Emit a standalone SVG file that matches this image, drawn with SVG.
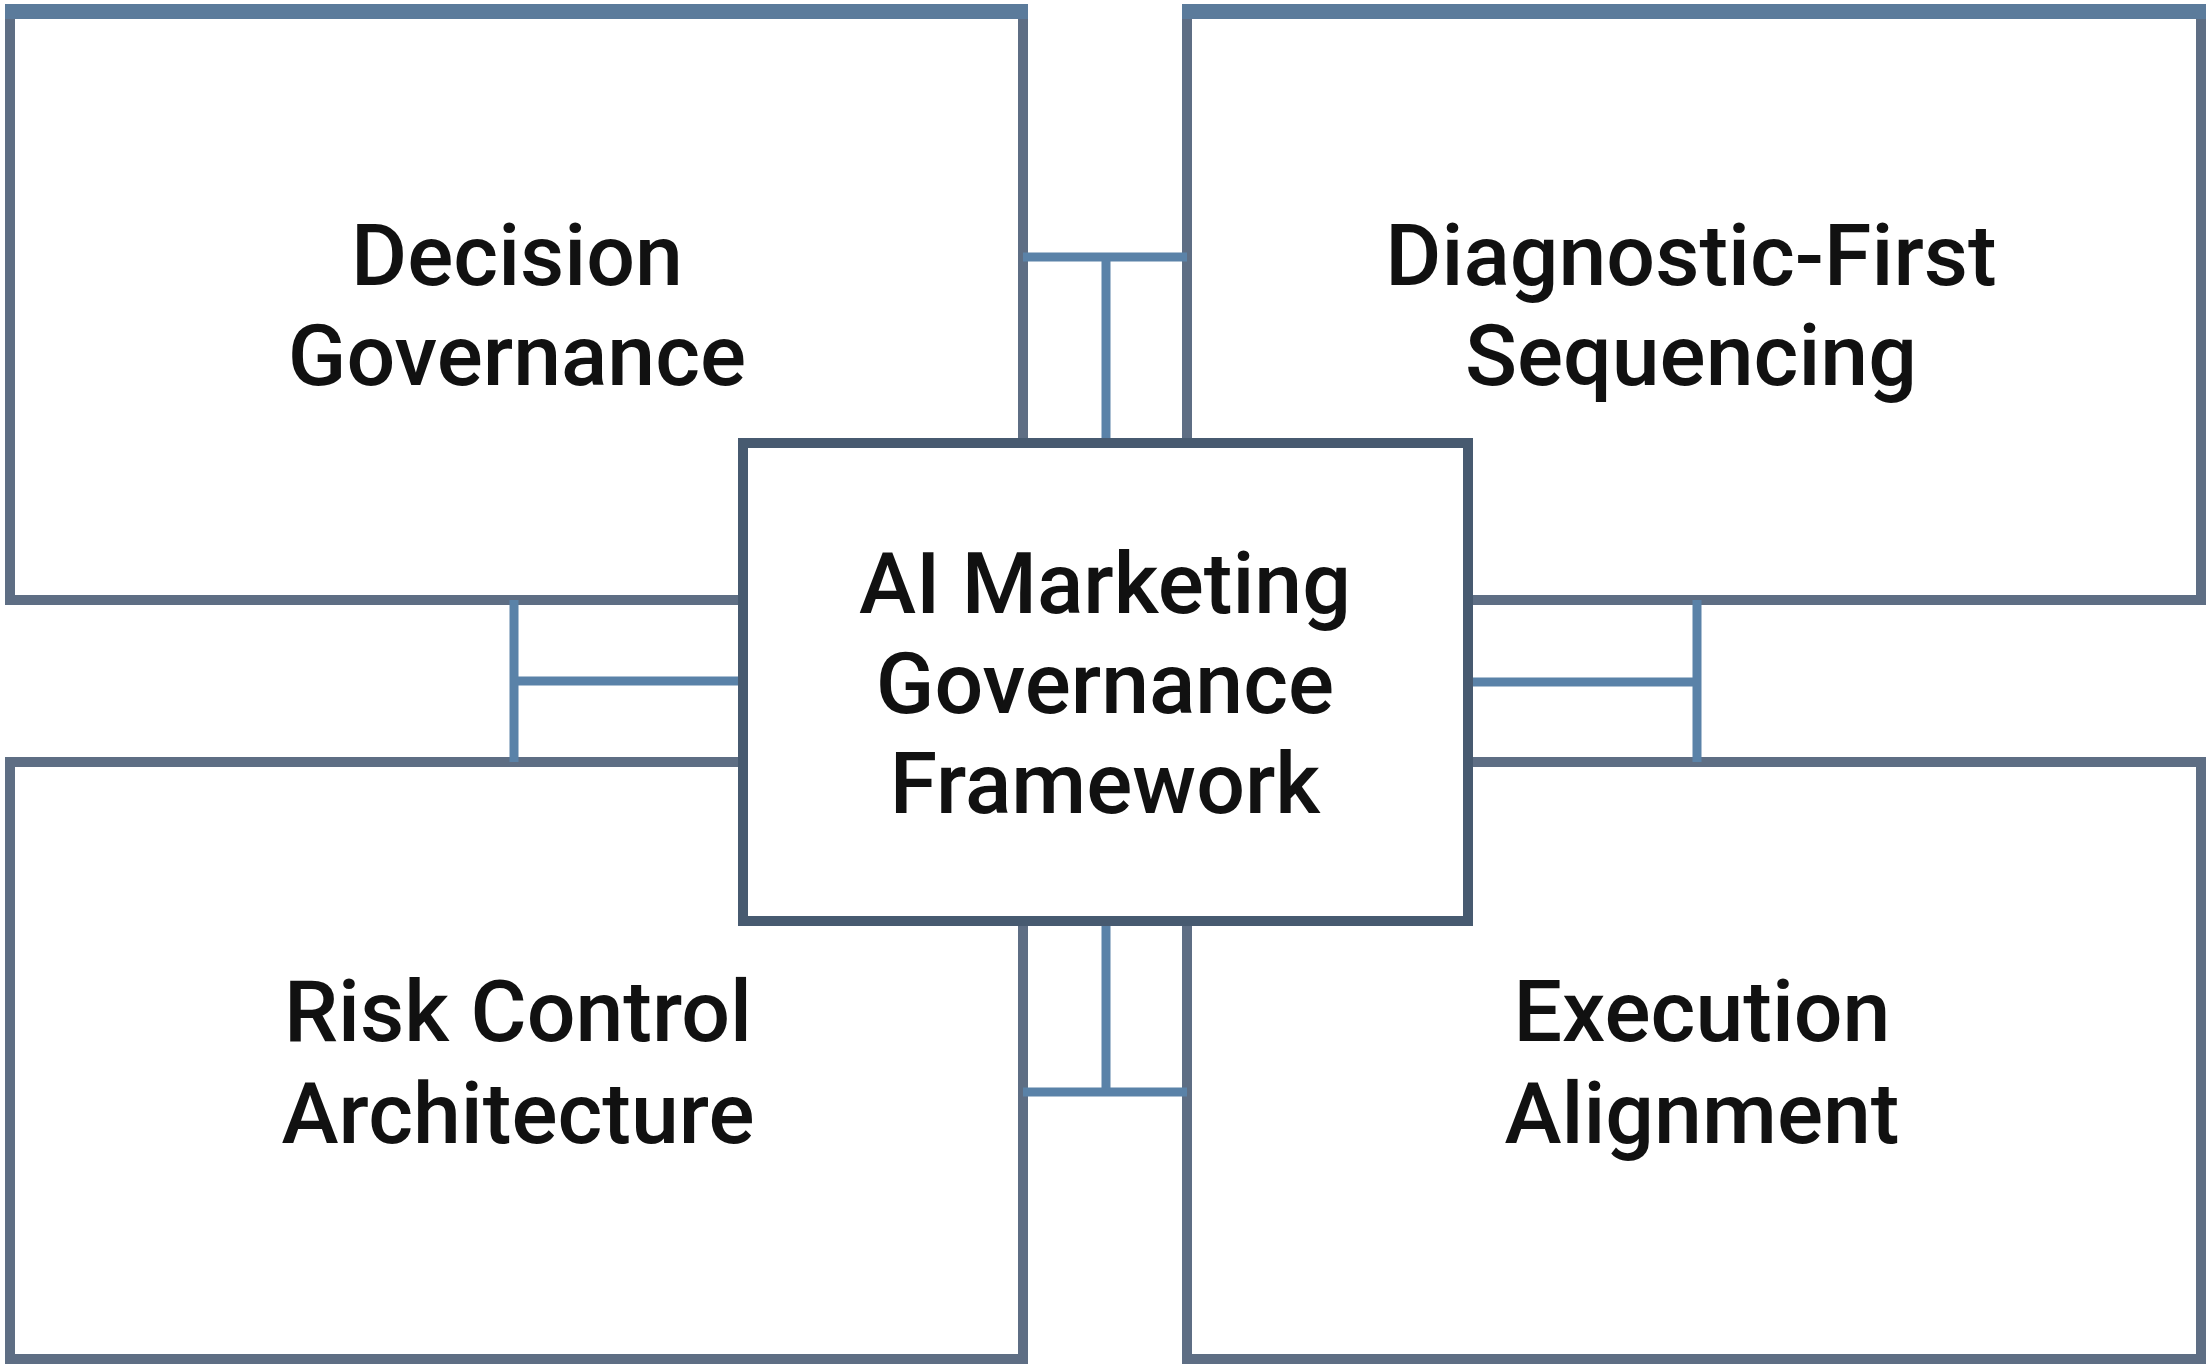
<svg xmlns="http://www.w3.org/2000/svg" width="2211" height="1370" viewBox="0 0 2211 1370">
<style>
.box{fill:#ffffff;stroke:#5e6e84;stroke-width:10}
.topband{fill:#5b7b9b}
.center{fill:#ffffff;stroke:#475a70;stroke-width:10}
.conn{fill:none;stroke:#5a82a8;stroke-width:9}
.lbl{font-family:Roboto,"Liberation Sans",sans-serif;font-weight:500;font-size:86px;fill:#111111;text-anchor:middle}
</style>
<rect width="2211" height="1370" fill="#ffffff"/>
<g id="node-decision-governance">
<rect class="box" x="10" y="12" width="1013" height="588"/>
<rect class="topband" x="5" y="4" width="1023" height="15"/>
<text class="lbl" x="517" y="285">Decision</text>
<text class="lbl" x="517" y="385">Governance</text>
</g>
<g id="node-diagnostic-first">
<rect class="box" x="1187" y="12" width="1014" height="588"/>
<rect class="topband" x="1182" y="4" width="1024" height="15"/>
<text class="lbl" x="1691" y="285">Diagnostic-First</text>
<text class="lbl" x="1691" y="385">Sequencing</text>
</g>
<g id="node-risk-control">
<rect class="box" x="10" y="762" width="1013" height="597"/>
<text class="lbl" x="518" y="1041">Risk Control</text>
<text class="lbl" x="518" y="1143">Architecture</text>
</g>
<g id="node-execution-alignment">
<rect class="box" x="1187" y="762" width="1014" height="597"/>
<text class="lbl" x="1702" y="1041">Execution</text>
<text class="lbl" x="1702" y="1143">Alignment</text>
</g>
<g id="connectors">
<path class="conn" d="M1023 257 H1187 M1106 257 V443"/>
<path class="conn" d="M514 600 V762 M514 681 H743"/>
<path class="conn" d="M1697 600 V762 M1468 682 H1697"/>
<path class="conn" d="M1106 921 V1092 M1023 1092 H1187"/>
</g>
<g id="node-center">
<rect class="center" x="743" y="443" width="725" height="478"/>
<text class="lbl" x="1105" y="613">AI Marketing</text>
<text class="lbl" x="1105" y="713">Governance</text>
<text class="lbl" x="1105" y="813">Framework</text>
</g>
</svg>
